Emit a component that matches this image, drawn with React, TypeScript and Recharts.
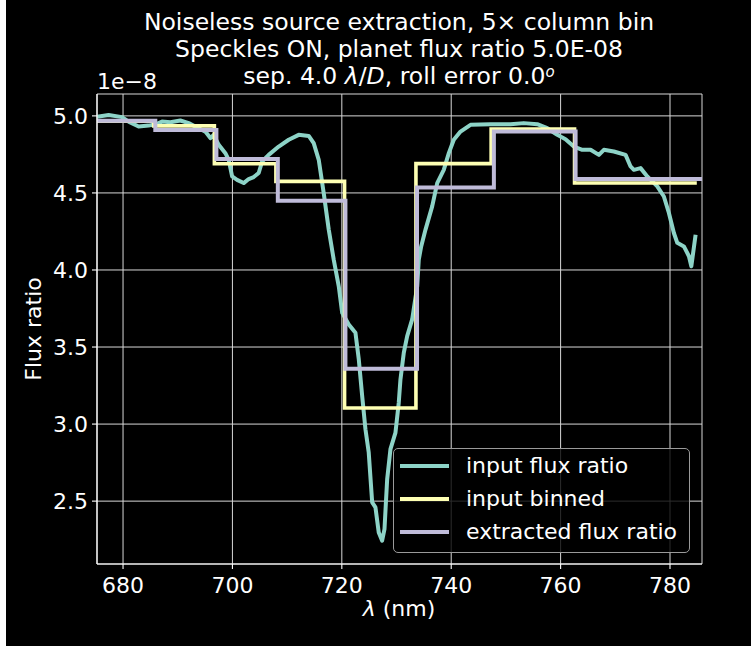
import React from "react";
import {
  LineChart,
  Line,
  XAxis,
  YAxis,
  CartesianGrid,
  Legend,
} from "recharts";

// input flux ratio (x1e-8)
const inputWl = [
  675.24, 677.37, 679.82, 681.02, 682.85, 684.68, 686.22, 687.13, 688.65, 690.48,
  692.0, 693.83, 695.05, 695.97, 696.57, 697.49, 698.71, 699.32, 699.94, 700.85,
  702.06, 702.97, 703.89, 704.8, 705.43, 706.63, 708.46, 710.29, 712.12, 713.95,
  714.86, 715.78, 716.69, 717.61, 718.52, 719.44, 720.06, 721.27, 722.49, 723.1,
  723.72, 724.32, 724.92, 725.55, 726.15, 726.75, 727.37, 727.8, 728.29, 728.89,
  729.81, 730.41, 730.72, 731.33, 731.95, 732.86, 733.78, 734.07, 734.51, 735.3,
  736.52, 737.44, 738.64, 739.56, 740.47, 741.7, 743.53, 747.18, 750.84, 753.28,
  755.73, 757.56, 759.39, 760.9, 762.42, 763.96, 765.48, 767.0, 767.91, 769.74,
  771.88, 772.79, 773.4, 774.62, 775.85, 777.68, 778.88, 779.8, 780.71, 781.33,
  782.54, 783.46, 783.9, 784.68,
];
const inputFlux = [
  4.995, 5.006, 4.992, 4.963, 4.931, 4.937, 4.948, 4.963, 4.959, 4.97,
  4.953, 4.92, 4.898, 4.856, 4.877, 4.812, 4.758, 4.715, 4.607, 4.585,
  4.564, 4.59, 4.603, 4.629, 4.704, 4.747, 4.801, 4.845, 4.877, 4.87,
  4.823, 4.715, 4.499, 4.262, 4.067, 3.894, 3.722, 3.646, 3.593, 3.42,
  3.182, 2.966, 2.815, 2.492, 2.459, 2.297, 2.243, 2.319, 2.642, 2.837,
  2.945, 3.139, 3.29, 3.463, 3.571, 3.679, 3.894, 4.067, 4.153, 4.262,
  4.413, 4.564, 4.65, 4.758, 4.845, 4.898, 4.942, 4.946, 4.946, 4.953,
  4.946, 4.92, 4.877, 4.849, 4.801, 4.78, 4.78, 4.747, 4.78, 4.769,
  4.747, 4.672, 4.65, 4.661, 4.607, 4.542, 4.477, 4.37, 4.24, 4.176,
  4.153, 4.089, 4.024, 4.229,
];

// input binned: bin start edges and values (last edge = end of last bin)
const binnedEdges = [675.24, 685.6, 696.7, 707.95, 720.5, 733.55, 747.3, 762.55, 784.9];
const binnedFlux = [4.965, 4.935, 4.689, 4.575, 3.104, 4.69, 4.914, 4.564, 4.564];

// extracted flux ratio
const extractedEdges = [675.24, 685.9, 697.07, 708.3, 720.66, 733.75, 747.8, 762.74, 785.85];
const extractedFlux = [4.968, 4.909, 4.72, 4.45, 3.359, 4.535, 4.898, 4.59, 4.59];

const seriesNames = ["input flux ratio", "input binned", "extracted flux ratio"];
const xTicks = [680, 700, 720, 740, 760, 780];
const yTicks = [2.5, 3.0, 3.5, 4.0, 4.5, 5.0];

const inputData = inputWl.map((x, i) => ({ x, y: inputFlux[i] }));
const binnedData = binnedEdges.map((x, i) => ({ x, y: binnedFlux[i] }));
const extractedData = extractedEdges.map((x, i) => ({ x, y: extractedFlux[i] }));

const FONT = "DejaVu Sans";
const xDomain: [number, number] = [675.24, 785.85];
const yDomain: [number, number] = [2.092, 5.142];

function LegendBox({ payload }: any) {
  // keep plotting order, not alphabetical
  const items = [...(payload || [])].sort(
    (a: any, b: any) => seriesNames.indexOf(a.value) - seriesNames.indexOf(b.value)
  );
  return (
    <div
      style={{
        boxSizing: "border-box",
        position: "relative",
        width: 297,
        height: 105,
        border: "1.5px solid #9a9a9a",
        borderRadius: 5,
        background: "rgba(0,0,0,0.8)",
        fontFamily: FONT,
        fontSize: 22,
        color: "#ffffff",
      }}
    >
      {items.map((p: any, i: number) => (
        <div
          key={p.value}
          style={{
            position: "absolute",
            left: 6,
            top: 17 + i * 32.8 - 14,
            height: 28,
            display: "flex",
            alignItems: "center",
            whiteSpace: "nowrap",
          }}
        >
          <div style={{ width: 49, height: 4, background: p.color }} />
          <span style={{ marginLeft: 17, lineHeight: "28px" }}>{p.value}</span>
        </div>
      ))}
    </div>
  );
}

export default function App() {
  return (
    <div style={{ position: "relative", width: 751, height: 646, background: "#ffffff" }}>
      <style>{"body{margin:0;}"}</style>
      <div
        style={{ position: "absolute", left: 6, top: 0, width: 745, height: 646, background: "#000000" }}
      />
      <div style={{ position: "absolute", left: 0, top: 0 }}>
        <LineChart
          width={751}
          height={646}
          margin={{ top: 94, right: 49, bottom: 0, left: 0 }}
          style={{ fontFamily: FONT }}
        >
          <CartesianGrid stroke="#d8d8d8" strokeWidth={1} />
          <XAxis
            dataKey="x"
            type="number"
            domain={xDomain}
            ticks={xTicks}
            allowDataOverflow
            height={82}
            tickSize={5}
            tickMargin={8}
            stroke="#ffffff"
            axisLine={{ stroke: "#ffffff", strokeWidth: 1.2 }}
            tickLine={{ stroke: "#ffffff", strokeWidth: 1.1 }}
            tick={{ fill: "#ffffff", fontSize: 22, fontFamily: FONT }}
          />
          <XAxis
            xAxisId="top"
            orientation="top"
            dataKey="x"
            type="number"
            domain={xDomain}
            allowDataOverflow
            height={0}
            tick={false}
            tickLine={false}
            axisLine={{ stroke: "#ffffff", strokeWidth: 1.2 }}
          />
          <YAxis
            type="number"
            domain={yDomain}
            ticks={yTicks}
            allowDataOverflow
            width={97}
            tickSize={5}
            tickMargin={4}
            tickFormatter={(v: number) => v.toFixed(1)}
            axisLine={{ stroke: "#ffffff", strokeWidth: 1.2 }}
            tickLine={{ stroke: "#ffffff", strokeWidth: 1.1 }}
            tick={{ fill: "#ffffff", fontSize: 22, fontFamily: FONT }}
          />
          <YAxis
            yAxisId="right"
            orientation="right"
            type="number"
            domain={yDomain}
            allowDataOverflow
            width={0}
            tick={false}
            tickLine={false}
            axisLine={{ stroke: "#ffffff", strokeWidth: 1.2 }}
          />
          <Line
            data={inputData}
            dataKey="y"
            name={seriesNames[0]}
            type="linear"
            stroke="#8dd3c7"
            strokeWidth={4}
            strokeLinejoin="round"
            dot={false}
            isAnimationActive={false}
          />
          <Line
            data={binnedData}
            dataKey="y"
            name={seriesNames[1]}
            type="stepAfter"
            stroke="#feffb3"
            strokeWidth={3.6}
            dot={false}
            isAnimationActive={false}
          />
          <Line
            data={extractedData}
            dataKey="y"
            name={seriesNames[2]}
            type="stepAfter"
            stroke="#bfbbd9"
            strokeWidth={4}
            dot={false}
            isAnimationActive={false}
          />
          <Legend
            layout="vertical"
            align="center"
            verticalAlign="middle"
            content={<LegendBox />}
            wrapperStyle={{ left: 393, top: 448, width: 297, height: 105 }}
          />
        </LineChart>
      </div>
      <svg
        width={751}
        height={646}
        style={{ position: "absolute", left: 0, top: 0, pointerEvents: "none" }}
        fontFamily={FONT}
        fill="#ffffff"
        fontSize={22}
      >
        <g fontSize={23.5}>
          <text x={399} y={30} textAnchor="middle">
            Noiseless source extraction, 5× column bin
          </text>
          <text x={399} y={57} textAnchor="middle">
            Speckles ON, planet flux ratio 5.0E-08
          </text>
          <text x={399} y={84} textAnchor="middle">
            sep. 4.0 <tspan fontStyle="italic">λ</tspan>/<tspan fontStyle="italic">D</tspan>, roll error 0.0
            <tspan fontStyle="italic" fontSize={15} dy={-7}>o</tspan>
          </text>
        </g>
        <text x={97} y={89}>1e−8</text>
        <text x={399} y={616} textAnchor="middle">
          <tspan fontStyle="italic">λ</tspan> (nm)
        </text>
        <text x={41} y={329} textAnchor="middle" transform="rotate(-90 41 329)">
          Flux ratio
        </text>
      </svg>
    </div>
  );
}
